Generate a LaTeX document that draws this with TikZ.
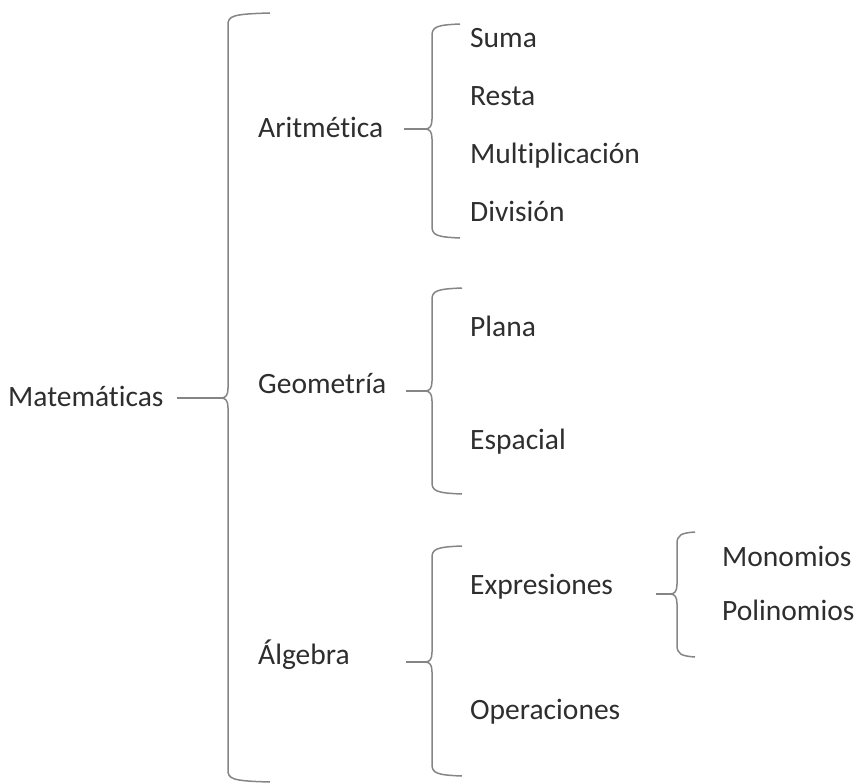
\documentclass[tikz,border=0pt]{standalone}
\usepackage{fontspec}
\setmainfont{Carlito}[Ligatures=CommonOff]
\definecolor{txt}{HTML}{2E2E2E}
\definecolor{brc}{HTML}{858585}
\newcommand{\mybrace}[6]{% x, top, cusp, bottom, tipwidth, cusp name
  \coordinate (#6) at (#1-7,#3);
  \draw[bracestyle] (#1+#5,#2) .. controls (#1+4,#2+1) and (#1,#2+3) .. (#1,#2+12)
    -- (#1,#3-10) .. controls (#1,#3-3) and (#1-2,#3) .. (#6)
    .. controls (#1-2,#3) and (#1,#3+3) .. (#1,#3+10)
    -- (#1,#4-12) .. controls (#1,#4-3) and (#1+4,#4-1) .. (#1+#5,#4);
}
\begin{document}
\begin{tikzpicture}[x=1pt,y=-1pt,
  lbl/.style={anchor=base west,inner sep=0pt,text=txt,font=\fontsize{29.5}{34}\selectfont},
  bracestyle/.style={draw=brc,line width=1.5pt,line join=round},
  stem/.style={draw=brc,line width=1.5pt}]
\useasboundingbox (0,0) rectangle (863,784);
% labels
\node[lbl] (mat) at (8,406) {Matemáticas};
\node[lbl] (ari) at (258,137) {Aritmética};
\node[lbl] (geo) at (258,393) {Geometría};
\node[lbl] (alg) at (258,664) {Álgebra};
\node[lbl] (suma) at (470,48) {Suma};
\node[lbl] (resta) at (470,106) {Resta};
\node[lbl] (mult) at (470,163) {Multiplicación};
\node[lbl] (div) at (470,221) {División};
\node[lbl] (plana) at (470,336) {Plana};
\node[lbl] (esp) at (470,449) {Espacial};
\node[lbl] (expr) at (470,594) {Expresiones};
\node[lbl] (oper) at (470,719) {Operaciones};
\node[lbl] (mono) at (722,566) {Monomios};
\node[lbl] (poli) at (722,620) {Polinomios};
% braces
\mybrace{228}{13}{398}{782}{42}{cM}
\mybrace{432}{24}{129}{238}{28}{cA}
\mybrace{432}{288}{391}{494}{30}{cG}
\mybrace{432}{546}{662}{776}{30}{cL}
\mybrace{677}{532}{594}{657}{18}{cE}
% stems
\draw[stem] ([xshift=13pt]mat.east |- cM) -- (cM);
\draw[stem] ([xshift=20pt]ari.east |- cA) -- (cA);
\draw[stem] ([xshift=20pt]geo.east |- cG) -- (cG);
\draw[stem] ([xshift=56pt]alg.east |- cL) -- (cL);
\draw[stem] ([xshift=43pt]expr.east |- cE) -- (cE);
\end{tikzpicture}
\end{document}
